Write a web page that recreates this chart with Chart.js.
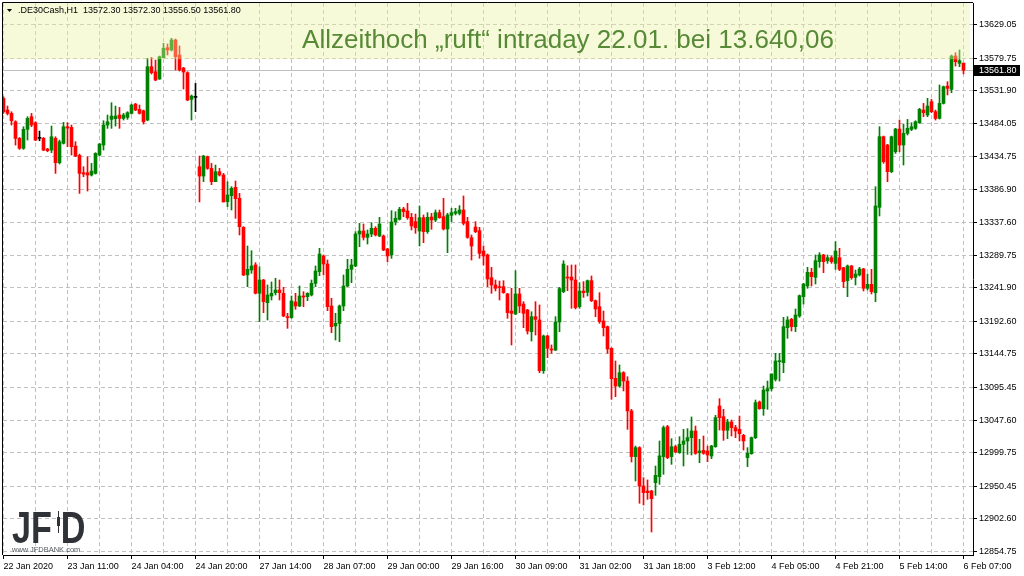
<!DOCTYPE html>
<html>
<head>
<meta charset="utf-8">
<title>DE30 H1</title>
<script src="https://cdn.jsdelivr.net/npm/chart.js@4.4.1/dist/chart.umd.min.js"></script>
<style>
  html, body { margin: 0; padding: 0; background: #fff; }
  #wrap { width: 1024px; height: 576px; }
</style>
</head>
<body>
<div id="wrap"><canvas id="chart"></canvas></div>
<script>
// hourly candles, .DE30Cash H1, 22 Jan - 6 Feb 2020
const opens = [
  13520.4,13503.3,13498.4,13486.1,13461.6,13447.0,13474.9,13493.5,13484.7,13461.7,
  13461.7,13446.0,13444.5,13461.7,13425.9,13454.3,13478.8,13477.8,13450.4,13436.7,
  13411.2,13411.2,13407.8,13410.2,13437.2,13451.9,13481.3,13489.6,13490.6,13496.0,
  13491.0,13492.5,13498.4,13512.1,13504.3,13502.3,13488.6,13567.0,13559.6,13548.9,
  13580.2,13595.0,13591.6,13606.3,13584.2,13565.1,13558.2,13519.0,13521.9,13420.0,
  13406.3,13434.7,13417.6,13398.0,13412.7,13407.8,13368.7,13377.5,13389.7,13373.6,
  13330.9,13260.9,13268.2,13275.6,13234.0,13253.5,13220.2,13230.0,13234.9,13238.8,
  13233.9,13199.6,13198.2,13221.2,13215.3,13230.0,13229.0,13231.5,13248.6,13265.8,
  13288.8,13277.0,13215.3,13185.9,13189.8,13215.3,13244.7,13269.2,13274.1,13321.1,
  13325.5,13316.2,13321.1,13329.5,13318.2,13318.2,13299.1,13290.3,13338.8,13342.7,
  13357.9,13355.0,13345.6,13339.3,13325.5,13345.1,13324.6,13346.1,13341.7,13352.5,
  13346.6,13328.5,13348.6,13351.5,13351.5,13356.4,13339.3,13315.7,13331.4,13326.0,
  13296.1,13290.3,13256.9,13246.2,13243.2,13243.7,13233.0,13207.9,13203.5,13233.0,
  13218.2,13209.4,13177.5,13199.6,13194.7,13120.2,13171.2,13152.1,13150.6,13191.8,
  13236.4,13257.9,13257.9,13253.5,13214.3,13237.3,13235.4,13252.5,13223.1,13214.3,
  13193.2,13184.9,13153.1,13109.0,13097.7,13117.3,13105.0,13061.0,12993.9,13007.1,
  12950.7,12943.4,12943.4,12955.6,12964.4,12993.9,13037.9,12993.9,13008.5,12999.7,
  13012.0,13016.9,13021.8,13031.6,12999.7,13003.1,13002.2,12994.8,13008.5,13068.3,
  13052.6,13032.6,13044.8,13036.5,13034.0,13025.2,12992.4,12998.2,13021.8,13074.2,
  13064.4,13090.4,13093.8,13107.5,13133.5,13132.0,13183.4,13195.7,13184.9,13200.6,
  13229.0,13244.7,13264.8,13257.4,13280.5,13290.3,13281.9,13286.3,13278.0,13286.3,
  13271.6,13252.5,13274.1,13257.4,13260.9,13269.7,13241.3,13247.1,13234.9,13360.3,
  13464.1,13451.9,13412.7,13442.0,13475.4,13451.9,13469.0,13474.9,13476.4,13484.7,
  13503.3,13496.0,13515.6,13500.9,13491.0,13513.1,13538.6,13533.7,13582.7,13572.0,
  13572.3
];
const highs = [
  13522.9,13509.2,13500.8,13487.6,13463.0,13478.8,13493.5,13498.4,13486.1,13472.4,
  13463.1,13447.0,13479.8,13464.1,13459.2,13485.2,13484.7,13481.3,13456.8,13438.6,
  13420.0,13434.7,13424.9,13440.6,13454.3,13487.6,13496.0,13514.1,13509.2,13507.2,
  13498.4,13500.9,13512.1,13513.1,13510.7,13503.3,13579.3,13580.7,13576.8,13582.7,
  13601.4,13600.4,13608.8,13607.7,13597.5,13566.0,13559.6,13525.4,13542.5,13435.7,
  13436.7,13435.7,13424.9,13422.5,13417.6,13410.2,13398.0,13390.7,13399.0,13380.9,
  13331.9,13303.5,13296.6,13279.0,13273.1,13254.5,13246.2,13250.6,13256.0,13253.5,
  13242.7,13204.5,13230.0,13233.9,13244.7,13236.4,13234.9,13253.5,13274.1,13300.1,
  13290.3,13282.9,13226.6,13204.5,13216.8,13260.9,13283.9,13283.9,13324.6,13336.8,
  13335.8,13327.0,13337.8,13331.9,13345.6,13319.7,13300.1,13355.4,13353.9,13360.3,
  13360.3,13366.2,13351.5,13350.5,13362.3,13349.1,13352.5,13351.5,13356.4,13356.4,
  13373.6,13351.5,13358.9,13358.9,13362.8,13377.0,13345.6,13319.7,13339.3,13330.9,
  13303.5,13291.7,13272.1,13253.5,13252.0,13252.5,13233.9,13241.3,13267.2,13241.3,
  13221.7,13210.4,13206.9,13221.7,13216.8,13172.6,13172.2,13158.0,13199.6,13242.7,
  13281.9,13274.6,13275.6,13275.6,13249.6,13251.1,13253.5,13259.4,13224.1,13234.9,
  13207.9,13185.9,13154.0,13134.5,13128.6,13118.8,13111.4,13063.4,13009.5,13008.5,
  12963.0,12959.6,12944.4,12980.1,13016.9,13038.9,13039.9,13020.3,13010.5,13023.2,
  13034.0,13035.0,13052.2,13038.9,13019.3,13024.2,13009.5,13010.5,13054.6,13079.1,
  13063.4,13048.7,13047.7,13039.9,13053.6,13026.7,13007.1,13022.8,13077.1,13075.7,
  13097.7,13105.0,13115.4,13145.7,13145.7,13198.6,13199.6,13197.2,13210.9,13231.5,
  13248.6,13272.1,13270.7,13290.3,13293.7,13291.2,13290.3,13288.8,13309.9,13300.1,
  13272.1,13275.6,13275.1,13268.2,13272.1,13270.7,13262.3,13269.2,13390.7,13478.8,
  13465.1,13452.9,13465.1,13476.4,13488.6,13482.7,13489.6,13484.7,13487.6,13505.8,
  13513.1,13520.5,13519.0,13503.3,13540.1,13538.6,13545.0,13584.2,13587.6,13591.6,
  13572.3
];
const lows = [
  13498.4,13496.0,13481.2,13451.8,13445.5,13445.5,13459.2,13478.8,13458.2,13458.2,
  13443.5,13442.0,13440.6,13410.2,13424.0,13453.3,13449.4,13437.2,13434.7,13380.8,
  13405.3,13384.3,13406.3,13409.2,13435.7,13444.5,13476.4,13476.4,13479.8,13476.4,
  13488.6,13489.6,13497.4,13502.3,13497.4,13482.7,13487.6,13556.2,13546.4,13548.4,
  13580.0,13584.2,13590.1,13562.2,13560.7,13534.2,13517.0,13488.6,13500.9,13368.2,
  13398.0,13416.1,13393.6,13398.0,13406.3,13368.2,13361.3,13356.4,13344.2,13319.7,
  13259.9,13243.7,13263.3,13233.0,13192.3,13205.5,13194.7,13224.1,13231.5,13224.1,
  13199.6,13182.5,13197.2,13210.4,13214.3,13214.3,13223.1,13230.0,13243.7,13259.9,
  13260.9,13208.4,13176.1,13165.3,13162.9,13208.4,13243.7,13249.6,13273.1,13302.5,
  13312.3,13306.4,13317.2,13318.2,13317.2,13296.6,13280.5,13285.4,13334.4,13341.7,
  13346.6,13342.7,13327.0,13322.1,13303.5,13308.4,13322.1,13328.0,13339.3,13344.2,
  13327.0,13293.7,13339.3,13349.1,13349.1,13334.4,13314.8,13282.9,13323.1,13285.4,
  13275.6,13243.7,13233.9,13237.4,13224.1,13233.9,13197.2,13158.0,13202.6,13205.5,
  13183.4,13174.1,13163.8,13172.6,13117.3,13116.3,13139.3,13145.7,13149.6,13177.5,
  13234.9,13237.8,13211.9,13210.9,13211.9,13228.0,13230.0,13221.7,13199.6,13189.8,
  13171.2,13145.7,13078.1,13082.0,13096.0,13090.4,13034.0,12986.0,12958.1,12925.3,
  12922.8,12931.1,12883.1,12937.0,12953.2,12967.9,12990.9,12982.6,12999.7,12998.7,
  12980.1,12997.3,12996.3,12997.3,12985.0,12997.3,12986.5,12990.9,13007.6,13033.0,
  13017.8,13020.3,13024.2,13021.8,13016.9,13003.6,12979.2,12997.3,13020.3,13063.4,
  13054.6,13063.4,13090.4,13105.0,13105.0,13117.3,13167.8,13178.5,13177.6,13198.6,
  13218.2,13241.3,13244.7,13247.6,13272.1,13264.3,13278.0,13278.0,13269.2,13267.2,
  13242.3,13229.0,13254.5,13246.2,13259.4,13237.4,13238.8,13233.0,13221.7,13347.6,
  13425.0,13398.0,13411.2,13439.6,13442.0,13422.5,13466.6,13473.0,13474.9,13483.7,
  13493.5,13493.5,13499.4,13488.6,13490.1,13512.1,13525.4,13528.8,13568.0,13567.0,
  13556.5
];
const closes = [
  13500.8,13498.4,13487.6,13461.6,13447.0,13474.9,13491.0,13481.3,13459.2,13461.7,
  13444.5,13443.5,13464.1,13425.9,13456.8,13478.8,13476.8,13449.4,13435.7,13410.2,
  13409.2,13407.8,13413.6,13439.6,13453.3,13481.3,13486.1,13494.5,13494.5,13491.0,
  13496.0,13499.4,13510.7,13503.3,13498.4,13486.1,13567.0,13558.2,13547.4,13581.7,
  13594.1,13591.6,13606.3,13581.7,13562.2,13559.2,13518.0,13523.9,13521.9,13406.3,
  13435.7,13417.6,13398.0,13412.7,13407.8,13368.2,13378.5,13388.3,13373.1,13331.9,
  13260.9,13269.2,13274.1,13234.0,13253.5,13221.7,13231.5,13233.9,13238.8,13234.9,
  13200.6,13198.2,13222.7,13215.3,13230.0,13228.5,13233.9,13248.6,13266.8,13291.7,
  13277.0,13214.3,13184.9,13189.8,13215.3,13244.7,13269.2,13275.6,13321.1,13325.5,
  13316.2,13321.1,13329.5,13319.7,13335.8,13297.6,13288.8,13338.8,13344.2,13357.4,
  13354.0,13345.1,13332.9,13330.4,13345.1,13324.6,13345.6,13341.7,13352.5,13345.1,
  13328.5,13349.1,13352.5,13354.0,13356.4,13336.8,13316.2,13303.5,13324.6,13292.7,
  13288.8,13255.0,13246.2,13241.3,13242.3,13234.9,13205.5,13204.5,13233.0,13215.3,
  13204.5,13178.5,13199.6,13195.7,13120.2,13171.2,13153.1,13150.6,13191.8,13240.8,
  13277.0,13256.4,13253.5,13212.9,13237.3,13234.9,13252.5,13223.1,13210.9,13192.3,
  13183.4,13152.1,13108.5,13097.7,13117.3,13105.0,13061.0,12993.9,13007.1,12950.7,
  12940.9,12940.9,12932.1,12966.4,12995.0,13036.5,12992.4,13008.5,13000.7,13012.0,
  13016.9,13021.8,13031.6,12998.7,13002.2,12998.7,12996.3,13009.5,13051.2,13051.2,
  13032.6,13044.8,13036.5,13031.6,13027.6,13016.9,12998.7,13021.8,13073.2,13064.4,
  13091.8,13093.8,13115.4,13134.5,13135.0,13184.9,13194.7,13184.9,13202.1,13230.5,
  13247.6,13264.8,13258.4,13281.9,13290.3,13280.5,13286.3,13280.5,13296.1,13269.2,
  13251.1,13274.1,13256.9,13262.3,13269.7,13241.3,13247.1,13236.4,13362.3,13464.2,
  13427.4,13412.7,13464.1,13475.4,13451.9,13469.0,13476.4,13478.8,13486.2,13504.3,
  13499.4,13509.2,13500.9,13491.0,13513.1,13537.6,13535.2,13582.7,13574.4,13575.9,
  13561.8
];

// time axis: a label every 16 bars, a grid line every 8
const xTickBars = [0, 16, 32, 48, 64, 80, 96, 112, 128, 144, 160, 176, 192, 208, 224, 240];
const xTickLabels = [
  '22 Jan 2020', '23 Jan 11:00', '24 Jan 04:00', '24 Jan 20:00', '27 Jan 14:00', '28 Jan 07:00',
  '29 Jan 00:00', '29 Jan 16:00', '30 Jan 09:00', '31 Jan 02:00', '31 Jan 18:00', '3 Feb 12:00',
  '4 Feb 05:00', '4 Feb 21:00', '5 Feb 14:00', '6 Feb 07:00'
];
const yTickValues = [
  13629.05, 13579.75, 13531.90, 13484.05, 13434.75, 13386.90, 13337.60, 13289.75, 13241.90,
  13192.60, 13144.75, 13095.45, 13047.60, 12999.75, 12950.45, 12902.60, 12854.75
];

const symbol = '.DE30Cash,H1';
const noteText = 'Allzeithoch \u201Eruft\u201C intraday 22.01. bei 13.640,06';
const bandBottom = 13578.0;

const upColor = '#008000';
const downColor = '#ff0000';
const gridColor = '#c0c0c0';
const font = 'Liberation Sans';

const last = closes.length - 1;

function candleColor(i) {
  if (closes[i] > opens[i]) return upColor;
  if (closes[i] < opens[i]) return downColor;
  return '#000000';
}

const colors = opens.map((o, i) => candleColor(i));
const bodies = opens.map((o, i) => ({ x: i, y: [o, closes[i]] }));
const wicks = opens.map((o, i) => ({ x: i, y: [lows[i], highs[i]] }));

const gridBars = [];
for (let b = 0; b <= last; b += 8) gridBars.push(b);

const mtOverlay = {
  id: 'mtOverlay',
  beforeDatasetsDraw(chart) {
    const { ctx, chartArea: a, scales: { y } } = chart;
    const py = Math.round(y.getPixelForValue(closes[last])) + 0.5;
    ctx.save();
    ctx.strokeStyle = gridColor;
    ctx.lineWidth = 1;
    ctx.beginPath();
    ctx.moveTo(a.left, py);
    ctx.lineTo(a.right, py);
    ctx.stroke();
    ctx.restore();
  },
  afterDatasetsDraw(chart) {
    const { ctx, chartArea: a, scales: { y } } = chart;
    ctx.save();
    // highlighted zone near the all time high
    const yb = y.getPixelForValue(bandBottom);
    ctx.fillStyle = 'rgba(235,242,160,0.4)';
    ctx.fillRect(a.left, a.top, a.right - a.left - 3, yb - a.top);

    ctx.fillStyle = '#578a36';
    ctx.font = '26px "' + font + '"';
    ctx.textAlign = 'center';
    ctx.textBaseline = 'alphabetic';
    ctx.fillText(noteText, 568, 48);

    // JFD watermark
    ctx.fillStyle = '#2f3338';
    ctx.save();
    ctx.translate(12, 543);
    ctx.scale(0.76, 1);
    ctx.font = 'bold 45px "' + font + '"';
    ctx.textAlign = 'left';
    ctx.fillText('JF', 0, 0);
    ctx.fillText('D', 64, 0);
    ctx.restore();
    ctx.fillRect(58, 511, 1, 22);
    ctx.fillRect(57, 517, 3, 9);
    ctx.fillStyle = '#555a60';
    ctx.font = '7.5px "' + font + '"';
    ctx.textAlign = 'left';
    ctx.fillText('www.JFDBANK.com', 12, 552);
    ctx.restore();
  },
  afterDraw(chart) {
    const { ctx, chartArea: a, scales: { y } } = chart;
    ctx.save();
    ctx.strokeStyle = '#000';
    ctx.lineWidth = 1;
    ctx.beginPath();
    ctx.moveTo(2.5, a.bottom);
    ctx.lineTo(2.5, 2.5);
    ctx.lineTo(a.right, 2.5);
    ctx.stroke();

    // header line
    ctx.fillStyle = '#000';
    ctx.beginPath();
    ctx.moveTo(7, 9);
    ctx.lineTo(12, 9);
    ctx.lineTo(9.5, 12);
    ctx.closePath();
    ctx.fill();
    ctx.font = '9px "' + font + '"';
    ctx.textAlign = 'left';
    ctx.textBaseline = 'middle';
    const ohlc = [opens[last], highs[last], lows[last], closes[last]].map(v => v.toFixed(2)).join(' ');
    ctx.fillText(symbol + '  ' + ohlc, 18, 11);

    // last price tag
    const py = Math.round(y.getPixelForValue(closes[last]));
    ctx.fillRect(a.right + 1, py - 5, 46, 11);
    ctx.fillStyle = '#fff';
    ctx.fillText(closes[last].toFixed(2), a.right + 6, py + 0.5);
    ctx.restore();
  }
};

new Chart(document.getElementById('chart'), {
  type: 'bar',
  data: {
    datasets: [
      {
        data: bodies,
        backgroundColor: colors,
        barThickness: 3,
        minBarLength: 1,
        grouped: false,
        borderWidth: 0
      },
      {
        data: wicks,
        backgroundColor: colors,
        barThickness: 1,
        grouped: false,
        borderWidth: 0
      }
    ]
  },
  options: {
    responsive: true,
    maintainAspectRatio: false,
    animation: false,
    layout: { padding: { left: 3, top: 3, right: 0, bottom: 0 } },
    plugins: { legend: { display: false }, tooltip: { enabled: false } },
    scales: {
      x: {
        type: 'linear',
        position: 'bottom',
        min: -0.125,
        max: 242.375,
        offset: false,
        grid: {
          offset: false,
          color: gridColor,
          tickLength: 4,
          tickColor: c => (c.tick && xTickBars.includes(c.tick.value)) ? '#000' : 'rgba(0,0,0,0)',
          tickBorderDash: []
        },
        border: { color: '#000', dash: [4, 3] },
        afterBuildTicks: s => { s.ticks = gridBars.map(v => ({ value: v })); },
        afterFit: s => { s.height = 21; s.paddingLeft = 0; s.paddingRight = 0; },
        ticks: {
          autoSkip: false,
          maxRotation: 0,
          minRotation: 0,
          align: 'start',
          padding: 2,
          color: '#000',
          font: { family: font, size: 9 },
          callback: v => {
            const k = xTickBars.indexOf(v);
            return k >= 0 ? xTickLabels[k] : '';
          }
        }
      },
      y: {
        type: 'linear',
        position: 'right',
        min: 12849.3,
        max: 13660.65,
        grid: {
          color: gridColor,
          tickLength: 4,
          tickColor: '#000',
          tickBorderDash: []
        },
        border: { color: '#000', dash: [4, 3] },
        afterBuildTicks: s => { s.ticks = yTickValues.map(v => ({ value: v })); },
        afterFit: s => { s.width = 51; s.paddingTop = 0; s.paddingBottom = 0; },
        ticks: {
          autoSkip: false,
          padding: 2,
          color: '#000',
          font: { family: font, size: 9 },
          callback: v => v.toFixed(2)
        }
      }
    }
  },
  plugins: [mtOverlay]
});
</script>
</body>
</html>
